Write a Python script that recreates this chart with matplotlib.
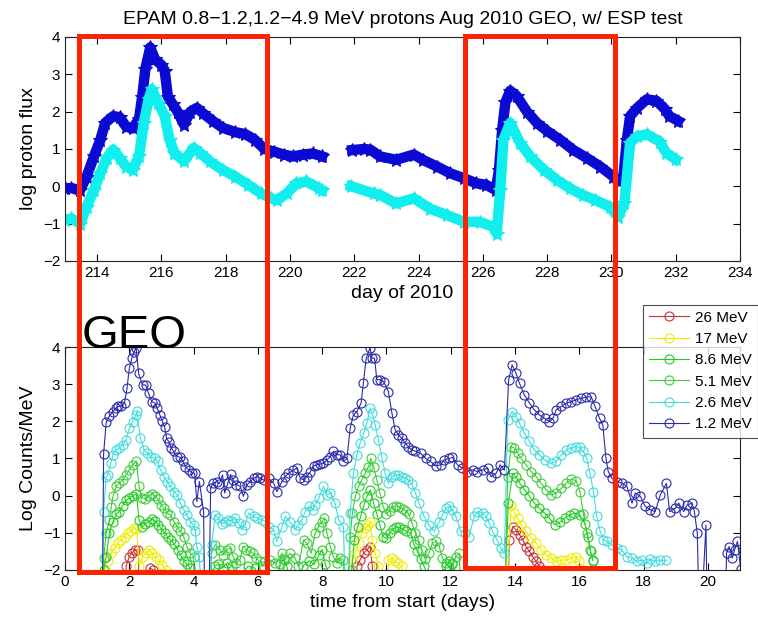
import numpy as np
import matplotlib
matplotlib.use("Agg")
import matplotlib.pyplot as plt
from matplotlib.patches import Rectangle

plt.rcParams['font.family'] = ['Liberation Sans', 'DejaVu Sans']

# ---- top panel: EPAM log proton flux vs day of 2010 (nan = data gap)
day_lo = [213.0, 213.2, 213.47, 213.67, 213.9, 214.1, 214.25, 214.5, 214.7, 214.9,
          215.1, 215.3, 215.4, 215.5, 215.65, 215.8, 216.0, 216.1, 216.2, 216.35,
          216.5, 216.7, 216.9, 217.1, 217.3, 217.6, 217.9, 218.3, 218.6, 218.9,
          219.2, 219.5, 219.8, 220.1, 220.4, 220.7, 221.0, 221.5, 221.93, 222.3,
          222.5, 222.8, 223.3, 223.85, 224.15, 224.57, 224.98, 225.4, 225.8, 226.1,
          226.4, 226.5, 226.6, 226.7, 226.85, 227.05, 227.37, 227.68, 228.0, 228.4,
          228.8, 229.23, 229.65, 230.06, 230.2, 230.37, 230.48, 230.58, 230.8, 231.1,
          231.4, 231.67, 231.8, 232.08]
flux_lo = [-0.05, -0.05, -0.1, 0.26, 0.8, 1.25, 1.7, 1.88, 1.85, 1.6,
           1.55, 1.8, 2.4, 3.15, 3.72, 3.4, 3.25, 3.1, 2.4, 2.2,
           2.0, 1.65, 2.0, 2.1, 1.95, 1.75, 1.57, 1.45, 1.4, 1.25,
           1.0, 0.93, 0.85, 0.8, 0.85, 0.88, 0.8, np.nan, 0.97, 1.0,
           0.98, 0.8, 0.71, 0.85, 0.7, 0.53, 0.35, 0.22, 0.08, 0.04,
           -0.1, 0.44, 1.52, 2.25, 2.56, 2.42, 2.0, 1.7, 1.48, 1.25,
           0.98, 0.76, 0.53, 0.26, 0.13, 0.26, 1.25, 1.88, 2.1, 2.33,
           2.29, 2.06, 1.88, 1.75]

day_hi = [213.0, 213.2, 213.47, 213.67, 213.9, 214.1, 214.3, 214.5, 214.7, 214.9,
          215.1, 215.3, 215.45, 215.6, 215.7, 215.9, 216.1, 216.25, 216.4, 216.7,
          217.0, 217.2, 217.5, 217.9, 218.3, 218.7, 219.1, 219.4, 219.6, 219.9,
          220.2, 220.5, 220.9, 221.0, 221.5, 221.9, 222.6, 222.8, 223.3, 223.85,
          224.36, 224.88, 225.4, 225.9, 226.33, 226.43, 226.54, 226.64, 226.85, 227.16,
          227.47, 227.9, 228.3, 228.7, 229.1, 229.5, 229.95, 230.2, 230.4, 230.58,
          230.8, 231.1, 231.5, 231.7, 232.0]
flux_hi = [-0.9, -0.86, -1.0, -0.55, -0.1, 0.35, 0.76, 0.98, 0.76, 0.53,
           0.44, 0.8, 1.7, 2.33, 2.6, 2.24, 1.88, 1.25, 0.9, 0.67,
           1.03, 0.9, 0.67, 0.44, 0.26, 0.04, -0.19, -0.32, -0.37, -0.19,
           0.08, 0.13, -0.05, -0.1, np.nan, 0.0, -0.19, -0.23, -0.46, -0.32,
           -0.6, -0.77, -0.95, -0.95, -1.09, -1.27, -0.1, 1.25, 1.7, 1.16,
           0.8, 0.44, 0.17, -0.05, -0.23, -0.37, -0.55, -0.82, -0.46, 1.16,
           1.34, 1.39, 1.2, 0.9, 0.72]

# ---- bottom panel: GEO log counts/MeV vs time from start (-4 = below axis)
t_12 = [1.15, 1.2, 1.28, 1.38, 1.49, 1.57, 1.66, 1.74, 1.85, 1.93, 2.0, 2.08, 2.15, 2.21,
        2.29, 2.41, 2.51, 2.6, 2.7, 2.8, 2.87, 2.95, 3.03, 3.1, 3.16, 3.23, 3.31, 3.38,
        3.49, 3.59, 3.67, 3.74, 3.85, 3.95, 4.03, 4.1, 4.18, 4.31, 4.36, 4.46, 4.53, 4.6,
        4.72, 4.8, 4.9, 4.97, 5.06, 5.15, 5.23, 5.33, 5.45, 5.55, 5.66, 5.76, 5.87, 5.97,
        6.07, 6.18, 6.33, 6.49, 6.59, 6.75, 6.85, 6.95, 7.1, 7.21, 7.32, 7.42, 7.52, 7.63,
        7.73, 7.83, 7.94, 8.04, 8.15, 8.25, 8.35, 8.46, 8.56, 8.66, 8.77, 8.87, 8.97, 9.08,
        9.21, 9.28, 9.37, 9.49, 9.55, 9.63, 9.7, 9.8, 9.91, 10.06, 10.17, 10.27, 10.37, 10.48,
        10.58, 10.68, 10.79, 10.9, 11.06, 11.22, 11.37, 11.53, 11.69, 11.79, 11.95, 12.05, 12.21, 12.36,
        12.52, 12.68, 12.83, 12.99, 13.15, 13.25, 13.41, 13.54, 13.67, 13.8, 13.91, 14.03, 14.14, 14.29,
        14.45, 14.6, 14.76, 14.92, 15.07, 15.18, 15.28, 15.44, 15.6, 15.75, 15.9, 16.06, 16.22, 16.37,
        16.49, 16.63, 16.73, 16.83, 16.9, 17.01, 17.17, 17.32, 17.48, 17.64, 17.74, 17.9, 18.05, 18.21,
        18.36, 18.52, 18.71, 18.81, 18.99, 19.09, 19.25, 19.35, 19.51, 19.58, 19.67, 19.75, 19.94, 19.99,
        20.52, 20.58, 20.66, 20.76, 20.83, 20.92, 21.02]
c_12 = [-4, 1.13, 1.97, 2.14, 2.26, 2.35, 2.4, 2.4, 2.49, 2.9, 3.43, 3.7, 3.87, 3.98,
        3.29, 2.98, 2.98, 2.75, 2.53, 2.49, 2.35, 2.17, 2.0, 1.84, 1.54, 1.45, 1.28, 1.19,
        1.05, 1.03, 0.92, 0.78, 0.69, 0.62, 0.6, -0.16, 0.38, -0.43, -4, -4, 0.2, 0.33,
        0.38, 0.32, 0.56, 0.07, 0.33, 0.57, 0.42, 0.3, 0.25, -0.02, 0.29, 0.38, 0.47, 0.51,
        0.47, 0.42, 0.47, 0.34, 0.11, 0.38, 0.51, 0.6, 0.69, 0.74, 0.47, 0.42, 0.51, 0.64,
        0.8, 0.83, 0.85, 0.87, 0.96, 1.05, 1.19, 1.1, 1.1, 0.92, 1.0, 1.81, 2.17, 2.26,
        2.49, 3.02, 3.7, 3.98, 3.7, 3.7, 3.12, 3.12, 3.07, 2.8, 2.22, 1.77, 1.64, 1.54,
        1.41, 1.32, 1.22, 1.2, 1.14, 1.0, 0.92, 0.8, 0.83, 0.96, 1.0, 1.03, 0.83, 0.74,
        0.65, 0.69, 0.65, 0.69, 0.74, 0.51, 0.6, 0.83, 0.69, 3.11, 3.52, 3.29, 3.02, 2.71,
        2.49, 2.31, 2.17, 2.08, 1.99, 2.08, 2.31, 2.4, 2.49, 2.53, 2.58, 2.62, 2.65, 2.66,
        2.4, 2.08, 1.9, 1.0, 0.65, 0.47, 0.38, 0.34, 0.25, -0.2, 0.07, -0.02, -0.29, -0.38,
        -0.43, 0.02, 0.33, -0.43, -0.34, -0.2, -0.43, -0.25, -0.2, -0.43, -1.01, -4, -0.79, -4,
        -4, -1.55, -1.37, -1.68, -1.46, -1.23, -1.98]

t_26 = [1.15, 1.2, 1.28, 1.33, 1.42, 1.49, 1.59, 1.69, 1.79, 1.9, 2.0, 2.1, 2.2, 2.24,
        2.34, 2.46, 2.56, 2.67, 2.79, 2.89, 2.97, 3.08, 3.18, 3.28, 3.38, 3.49, 3.59, 3.69,
        3.79, 3.9, 4.0, 4.05, 4.1, 4.18, 4.3, 4.46, 4.56, 4.67, 4.77, 4.87, 4.97, 5.07,
        5.17, 5.3, 5.4, 5.5, 5.6, 5.71, 5.87, 5.97, 6.12, 6.23, 6.33, 6.49, 6.59, 6.75,
        6.85, 7.0, 7.16, 7.26, 7.37, 7.47, 7.58, 7.7, 7.78, 7.89, 8.04, 8.15, 8.25, 8.4,
        8.51, 8.66, 8.77, 8.87, 8.97, 9.08, 9.18, 9.29, 9.39, 9.49, 9.56, 9.65, 9.75, 9.85,
        9.96, 10.06, 10.17, 10.27, 10.37, 10.48, 10.58, 10.68, 10.79, 10.9, 11.01, 11.17, 11.32, 11.48,
        11.64, 11.74, 11.84, 11.95, 12.05, 12.16, 12.31, 12.45, 12.57, 12.73, 12.83, 12.99, 13.09, 13.2,
        13.3, 13.44, 13.56, 13.67, 13.77, 13.91, 14.03, 14.14, 14.29, 14.45, 14.6, 14.76, 14.92, 15.13,
        15.28, 15.44, 15.6, 15.75, 15.9, 16.02, 16.13, 16.23, 16.33, 16.44, 16.54, 16.65, 16.75, 16.85,
        17.01, 17.17, 17.32, 17.48, 17.64, 17.79, 17.95, 18.1, 18.21, 18.36, 18.52, 18.71]
c_26 = [-4, -0.43, 0.51, 0.56, 0.87, 1.1, 1.23, 1.28, 1.37, 1.5, 1.81, 1.99, 2.17, 2.27,
        1.55, 1.23, 1.14, 1.05, 1.0, 0.92, 0.69, 0.51, 0.38, 0.25, 0.11, 0.02, -0.2, -0.38,
        -0.52, -0.7, -0.79, -0.96, -1.37, -1.64, -4, -4, -1.32, -0.52, -0.6, -0.75, -0.72, -0.66,
        -0.68, -0.6, -0.74, -0.92, -0.8, -0.47, -0.56, -0.6, -0.65, -0.7, -0.83, -0.92, -1.23, -0.83,
        -0.56, -0.7, -0.92, -0.79, -0.65, -0.43, -0.29, -0.38, -0.25, -0.07, 0.25, 0.02, 0.07, -0.2,
        -0.65, -0.83, -4, -0.47, 0.6, 1.1, 1.41, 1.68, 1.95, 2.35, 2.22, 1.9, 1.5, 1.05,
        0.6, 0.34, 0.51, 0.56, 0.56, 0.51, 0.47, 0.42, 0.32, 0.07, -0.2, -0.56, -0.79, -0.96,
        -0.7, -0.52, -0.34, -0.29, -0.38, -0.56, -0.96, -1.0, -1.1, -0.56, -0.43, -0.47, -0.56, -0.74,
        -0.96, -1.19, -1.41, -1.55, 2.03, 2.26, 2.13, 1.95, 1.68, 1.46, 1.23, 1.1, 0.96, 0.87,
        0.92, 1.1, 1.23, 1.28, 1.32, 1.3, 1.19, 1.0, 0.6, 0.11, -0.56, -0.96, -1.19, -1.23,
        -1.32, -1.41, -1.46, -1.64, -1.68, -1.77, -1.73, -1.82, -1.71, -1.77, -1.74, -1.74]

t_51 = [1.15, 1.2, 1.28, 1.38, 1.44, 1.49, 1.59, 1.69, 1.79, 1.9, 2.0, 2.1, 2.22, 2.3,
        2.4, 2.5, 2.6, 2.7, 2.8, 2.9, 3.0, 3.08, 3.18, 3.28, 3.38, 3.49, 3.59, 3.69,
        3.79, 3.9, 4.0, 4.08, 4.46, 4.56, 4.67, 4.82, 4.92, 5.03, 5.13, 5.23, 5.33, 5.44,
        5.54, 5.64, 5.74, 5.85, 5.95, 6.05, 6.15, 6.23, 6.38, 6.54, 6.75, 6.85, 7.0, 7.16,
        7.26, 7.42, 7.52, 7.66, 7.78, 7.89, 7.99, 8.07, 8.15, 8.25, 8.35, 8.46, 8.56, 8.66,
        8.77, 8.87, 8.94, 9.03, 9.13, 9.23, 9.34, 9.44, 9.51, 9.6, 9.7, 9.8, 9.9, 10.0,
        10.1, 10.2, 10.3, 10.4, 10.5, 10.6, 10.7, 10.8, 10.9, 11.0, 11.1, 11.2, 11.32, 11.43,
        11.53, 11.64, 11.74, 11.84, 11.95, 12.05, 12.16, 12.26, 12.4, 13.65, 13.77, 13.88, 13.98, 14.08,
        14.19, 14.34, 14.5, 14.66, 14.81, 14.97, 15.13, 15.28, 15.44, 15.6, 15.75, 15.9, 16.02, 16.13,
        16.23, 16.33, 16.42]
c_51 = [-4, -1.68, -1.01, -0.65, -0.3, -0.02, 0.25, 0.34, 0.42, 0.56, 0.69, 0.83, 0.92, 0.25,
        -0.05, -0.1, 0.0, 0.05, 0.0, -0.1, -0.25, -0.34, -0.47, -0.52, -0.7, -0.83, -0.96, -1.1,
        -1.37, -1.55, -1.64, -4, -4, -1.55, -1.32, -1.46, -1.6, -1.46, -1.41, -1.64, -1.82, -1.73,
        -1.37, -1.46, -1.5, -1.55, -1.68, -1.77, -1.9, -1.77, -1.73, -1.82, -1.55, -1.73, -1.55, -1.68,
        -1.9, -1.19, -1.28, -1.55, -1.01, -0.83, -0.7, -0.61, -1.01, -1.37, -1.64, -1.82, -1.68, -1.73,
        -4, -1.1, -0.47, -0.02, 0.25, 0.42, 0.6, 0.78, 1.0, 0.78, 0.42, 0.07, -0.3, -0.5,
        -0.4, -0.3, -0.27, -0.3, -0.35, -0.4, -0.5, -0.75, -1.0, -1.2, -1.45, -1.7, -1.55, -1.28,
        -1.23, -1.37, -1.68, -1.82, -1.91, -1.82, -1.64, -1.55, -4, -4, 0.51, 1.32, 1.28, 1.14,
        1.0, 0.83, 0.65, 0.51, 0.34, 0.16, 0.02, 0.07, 0.2, 0.34, 0.45, 0.4, 0.1, -0.5,
        -1.0, -1.45, -1.73]

t_86 = [1.15, 1.2, 1.28, 1.38, 1.49, 1.59, 1.69, 1.79, 1.9, 2.0, 2.1, 2.22, 2.3, 2.4,
        2.5, 2.6, 2.7, 2.8, 2.9, 3.0, 3.1, 3.2, 3.3, 3.4, 3.5, 3.6, 3.7, 3.8,
        3.9, 4.0, 4.55, 4.65, 4.75, 4.9, 5.05, 5.2, 5.4, 5.7, 5.9, 6.1, 6.6, 6.7,
        6.8, 6.9, 7.0, 7.3, 7.4, 7.6, 7.75, 7.9, 8.0, 8.1, 8.25, 8.7, 8.92, 9.0,
        9.1, 9.2, 9.3, 9.4, 9.5, 9.6, 9.7, 9.8, 9.9, 10.0, 10.1, 10.2, 10.3, 10.4,
        10.5, 10.6, 10.75, 10.85, 10.96, 11.06, 11.17, 11.3, 11.7, 11.85, 11.95, 12.05, 12.2, 13.7,
        13.79, 13.93, 14.03, 14.14, 14.29, 14.45, 14.6, 14.76, 14.92, 15.07, 15.23, 15.39, 15.54, 15.7,
        15.85, 16.01, 16.17, 16.27, 16.35, 16.42]
c_86 = [-4, -2.0, -1.64, -1.0, -0.7, -0.5, -0.43, -0.27, -0.12, -0.07, 0.0, 0.05, -0.65, -0.85,
        -0.75, -0.7, -0.62, -0.68, -0.78, -0.9, -1.0, -1.12, -1.2, -1.3, -1.45, -1.6, -1.75, -1.85,
        -1.95, -2.3, -2.3, -1.9, -1.85, -1.95, -1.8, -1.9, -2.2, -1.9, -1.95, -2.3, -2.2, -1.85,
        -1.7, -1.9, -2.3, -2.2, -1.9, -1.75, -1.85, -1.6, -1.45, -1.85, -2.2, -2.2, -2.0, -1.2,
        -0.85, -0.55, -0.25, 0.0, 0.15, -0.2, -0.5, -0.8, -1.1, -1.15, -1.0, -0.9, -0.85, -0.85,
        -0.9, -0.95, -1.01, -1.3, -1.5, -1.7, -1.9, -2.2, -2.2, -1.9, -1.75, -1.85, -2.2, -2.2,
        -0.2, 0.6, 0.51, 0.34, 0.16, -0.02, -0.2, -0.34, -0.47, -0.61, -0.78, -0.72, -0.61, -0.52,
        -0.47, -0.52, -0.75, -1.1, -1.5, -1.75]

t_17 = [1.18, 1.23, 1.33, 1.44, 1.54, 1.64, 1.74, 1.85, 1.95, 2.05, 2.15, 2.22, 2.31, 2.41,
        2.51, 2.62, 2.72, 2.82, 2.92, 3.03, 3.13, 3.2, 8.85, 8.92, 9.03, 9.13, 9.23, 9.34,
        9.44, 9.49, 9.56, 9.65, 9.75, 9.85, 10.0, 10.06, 10.17, 10.27, 10.37, 10.48, 10.55, 13.72,
        13.77, 13.88, 13.98, 14.08, 14.19, 14.34, 14.5, 14.66, 14.81, 14.97, 15.13, 15.28, 15.44, 15.6,
        15.75, 15.9, 16.0, 16.1, 16.15]
c_17 = [-4, -2.0, -1.77, -1.55, -1.41, -1.28, -1.19, -1.1, -1.01, -0.96, -0.87, -0.9, -1.9, -1.64,
        -1.55, -1.46, -1.55, -1.64, -1.73, -1.86, -2.0, -4, -4, -1.73, -1.55, -1.28, -1.01, -0.87,
        -0.79, -0.7, -1.19, -1.55, -1.9, -4, -4, -1.73, -1.68, -1.77, -1.82, -1.9, -4, -4,
        -2.0, -0.25, -0.47, -0.61, -0.79, -0.96, -1.14, -1.28, -1.46, -1.59, -1.68, -1.77, -1.74, -1.73,
        -1.68, -1.64, -1.77, -2.0, -4]

t_26mev = [1.85, 1.9, 2.0, 2.07, 2.17, 2.28, 2.33, 2.6, 2.65, 2.75, 2.8, 9.0, 9.08, 9.18,
           9.29, 9.39, 9.49, 9.56, 9.6, 13.75, 13.82, 13.93, 14.03, 14.14, 14.24, 14.34, 14.45, 14.55,
           14.66, 14.76, 14.86, 14.9]
c_26mev = [-4, -1.9, -1.64, -1.55, -1.46, -1.46, -4, -4, -1.95, -2.0, -4, -4, -1.9, -1.73,
           -1.55, -1.46, -1.37, -1.9, -4, -4, -1.19, -0.83, -0.92, -1.05, -1.19, -1.37, -1.5, -1.64,
           -1.77, -1.9, -2.0, -4]

labels = ['26 MeV', '17 MeV', '8.6 MeV', '5.1 MeV', '2.6 MeV', '1.2 MeV']
colors = ['#c83232', '#eeee00', '#22cc22', '#3ccc3c', '#40dcdc', '#2a2aaa']

fig = plt.figure(figsize=(7.58, 6.18), dpi=100)

# top panel
ax1 = fig.add_axes([0.0858, 0.5777, 0.8905, 0.3625])
ax1.plot(day_lo, flux_lo, color='#0a0ad2', lw=7.5, marker='*', ms=10, mew=0.8)
ax1.plot(day_hi, flux_hi, color='#11eeee', lw=7.5, marker='*', ms=10, mew=0.8)
ax1.set_xlim(213, 234)
ax1.set_ylim(-2, 4)
ax1.set_xticks(np.arange(214, 235, 2))
ax1.set_yticks(np.arange(-2, 5, 1))
ax1.set_title('EPAM 0.8\u22121.2,1.2\u22124.9 MeV protons Aug 2010 GEO, w/ ESP test',
              fontsize=14, pad=9)
ax1.set_xlabel('day of 2010', fontsize=14, labelpad=4)
ax1.set_ylabel('log proton flux', fontsize=14, labelpad=4)

# bottom panel
ax2 = fig.add_axes([0.0858, 0.0777, 0.8905, 0.3608])
series = [(t_26mev, c_26mev), (t_17, c_17), (t_86, c_86), (t_51, c_51), (t_26, c_26), (t_12, c_12)]
for (tt, cc), lab, col in zip(series, labels, colors):
    ax2.plot(tt, cc, color=col, lw=0.8, marker='o', ms=6.5, mfc='none', mew=0.8, label=lab)
ax2.set_xlim(0, 21)
ax2.set_ylim(-2, 4)
ax2.set_xticks(np.arange(0, 21, 2))
ax2.set_yticks(np.arange(-2, 5, 1))
ax2.set_xlabel('time from start (days)', fontsize=14, labelpad=4)
ax2.set_ylabel('Log Counts/MeV', fontsize=14, labelpad=4)

for ax in (ax1, ax2):
    ax.tick_params(direction='in', top=True, right=True, labelsize=11, length=5, width=0.8)
    for s in ax.spines.values():
        s.set_linewidth(0.8)
        s.set_color('#222222')

h, l = ax2.get_legend_handles_labels()
leg = fig.legend(h, l, loc='upper left', bbox_to_anchor=(0.848, 0.507), fontsize=11,
                 frameon=True, fancybox=False, edgecolor='#222222', handlelength=2.6,
                 handletextpad=0.4, labelspacing=0.48, borderpad=0.4, borderaxespad=0)
leg.get_frame().set_linewidth(0.8)

fig.text(0.108, 0.437, 'GEO', fontsize=34, va='baseline', ha='left')

# red highlight boxes drawn over both panels (figure fractions)
boxes = [(0.1042, 0.3529, 0.0737, 0.941), (0.6135, 0.812, 0.0817, 0.941)]
for x0, x1, y0, y1 in boxes:
    fig.add_artist(Rectangle((x0, y0), x1 - x0, y1 - y0, transform=fig.transFigure,
                             fill=False, edgecolor='#ff2200', lw=3.6, zorder=10))

fig.savefig('out.png', dpi=100)
